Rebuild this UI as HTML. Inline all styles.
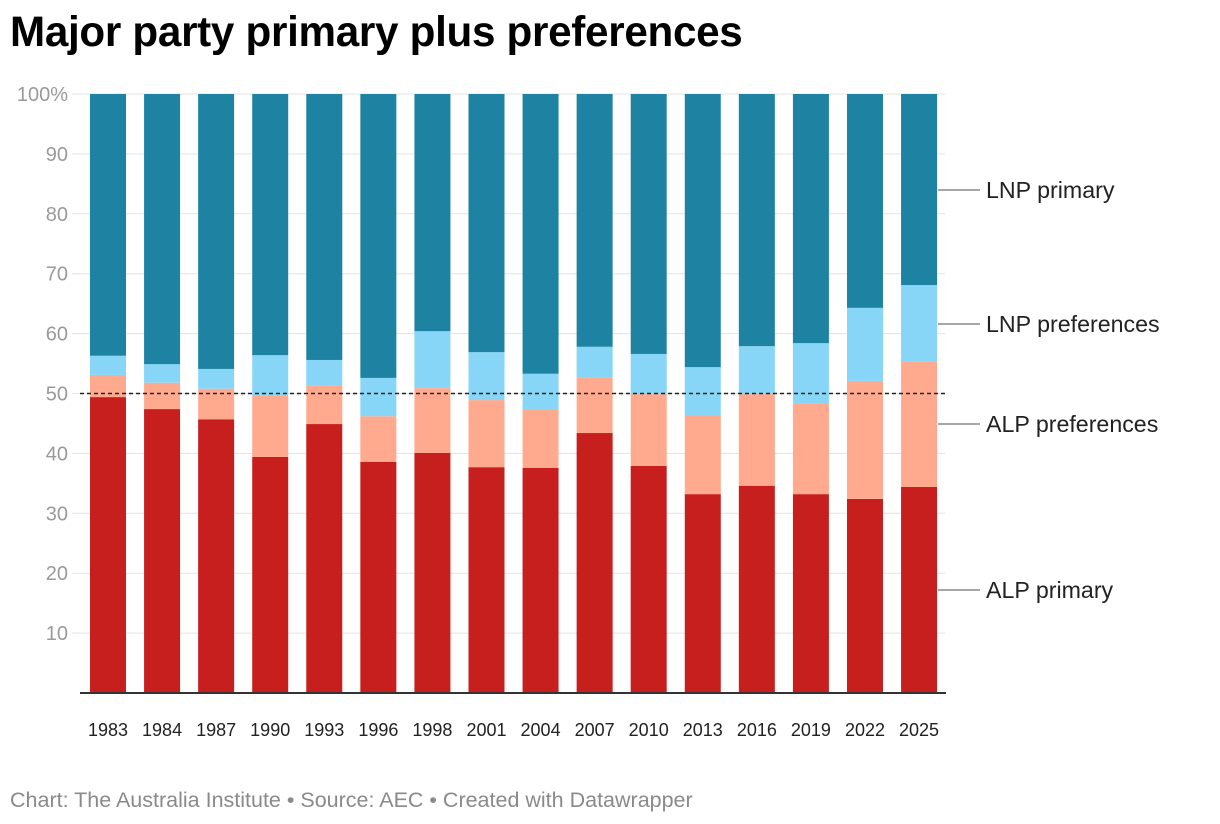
<!DOCTYPE html>
<html><head><meta charset="utf-8">
<style>
body{margin:0;background:#fff;width:1220px;height:824px;overflow:hidden;font-family:"Liberation Sans",sans-serif;}
h1{position:absolute;left:10px;top:8px;margin:0;font-size:42.2px;font-weight:bold;color:#000;letter-spacing:-0.3px}
.foot{position:absolute;left:10px;top:788px;font-size:21.5px;color:#8a8a8a}
svg{position:absolute;left:0;top:0}
</style></head>
<body>
<h1>Major party primary plus preferences</h1>
<svg id="chart" width="1220" height="824"></svg>
<div class="foot">Chart: The Australia Institute • Source: AEC • Created with Datawrapper</div>
<script>
const years=["1983","1984","1987","1990","1993","1996","1998","2001","2004","2007","2010","2013","2016","2019","2022","2025"];
const alpPrimary=[49.4,47.4,45.7,39.4,44.9,38.6,40.1,37.7,37.6,43.4,37.9,33.2,34.6,33.2,32.4,34.4];
const alpPrefs=[3.7,4.4,5.1,10.3,6.5,7.6,10.8,11.2,9.8,9.2,12.0,13.2,15.3,15.2,19.7,21.0];
const lnpPrefs=[3.2,3.1,3.3,6.7,4.2,6.4,9.5,8.0,5.9,5.2,6.7,8.0,8.0,10.0,12.2,12.7];
const yTicks=[10,20,30,40,50,60,70,80,90,100];
const seriesNames=["ALP primary","ALP preferences","LNP preferences","LNP primary"];
const colors=["#c71e1e","#ffaa8e","#87d6f8","#1e83a3"];
const NS="http://www.w3.org/2000/svg";
const svg=document.getElementById('chart');
const y0=693,y100=94;
const yS=v=>y0-(y0-y100)*v/100;
const xS=i=>90+i*54.07;
const bw=36;
function mk(t,a){const e=document.createElementNS(NS,t);for(const k in a)e.setAttribute(k,a[k]);svg.appendChild(e);return e;}
yTicks.forEach(t=>{
  const g=mk('line',{x1:72,x2:945,y1:yS(t),y2:yS(t),stroke:'#e3e3e3','stroke-width':1});
  
  
  const l=mk('text',{x:68,y:yS(t)+7,'text-anchor':'end','font-size':20,fill:'#9a9a9a'});
  l.textContent=t===100?'100%':t;
  
  
});
years.forEach((yr,i)=>{
  const vals=[alpPrimary[i],alpPrefs[i],lnpPrefs[i]];
  vals.push(100-vals[0]-vals[1]-vals[2]);
  let acc=0;
  vals.forEach((v,s)=>{
    const r=mk('rect',{x:xS(i),y:yS(acc+v),width:bw,height:yS(acc)-yS(acc+v),fill:colors[s]});
    
    
    acc+=v;
  });
  const t=mk('text',{x:xS(i)+bw/2,y:736,'text-anchor':'middle','font-size':18,fill:'#222'});
  t.textContent=yr;
  
  
});
const ax=mk('line',{x1:80,x2:946,y1:693,y2:693,stroke:'#333','stroke-width':2});


const ref=mk('line',{x1:80,x2:946,y1:yS(50),y2:yS(50),stroke:'#222','stroke-width':1.5,'stroke-dasharray':'4,3'});


const labY=[590,424,324,190];
seriesNames.forEach((n,s)=>{
  const l=mk('line',{x1:938,x2:980,y1:labY[s],y2:labY[s],stroke:'#888','stroke-width':1.5});
  
  
  const t=mk('text',{x:986,y:labY[s]+8,'font-size':23.2,fill:'#222'});
  t.textContent=n;
  
  
});
</script>
</body></html>
